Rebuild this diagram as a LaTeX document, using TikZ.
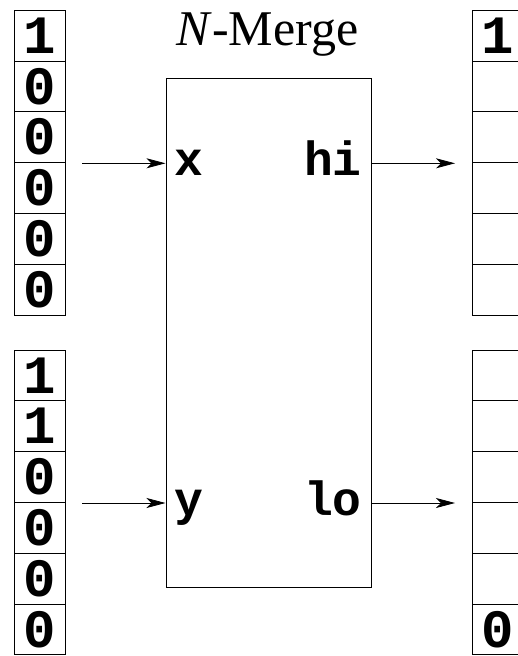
\documentclass[tikz,border=0pt]{standalone}
\usepackage{fontspec}
\setmainfont{Liberation Serif}
\setmonofont{Liberation Mono}
\usetikzlibrary{arrows.meta}
\begin{document}
\begin{tikzpicture}[x=1pt,y=-1pt,
  cell/.style={draw, line width=0.8pt, minimum width=51pt, minimum height=50.8pt, inner sep=0pt,
    font=\fontsize{54}{58}\selectfont\ttfamily\bfseries},
  lbl/.style={anchor=base, inner sep=0pt, font=\fontsize{48}{52}\selectfont\ttfamily\bfseries},
  arr/.style={line width=0.8pt, -{Stealth[length=19pt,width=10pt,inset=5pt]}}]
\useasboundingbox (0,0) rectangle (518,656);
% left columns
\foreach \v [count=\i from 0] in {1,0,0,0,0,0}
  \node[cell] (a\i) at (39.5,{35.5+50.8*\i}) {\v};
\foreach \v [count=\i from 0] in {1,1,0,0,0,0}
  \node[cell] (b\i) at (39.5,{375.4+50.8*\i}) {\v};
% right columns
\foreach \v [count=\i from 0] in {1,{},{},{},{},{}}
  \node[cell] (c\i) at (498,{35.5+50.8*\i}) {\v};
\foreach \v [count=\i from 0] in {{},{},{},{},{},0}
  \node[cell] (d\i) at (498,{375.4+50.8*\i}) {\v};
% merge box
\node[draw, line width=1pt, minimum width=205pt, minimum height=509pt, inner sep=0pt] (merge) at (268.5,333.3) {};
\node[anchor=base, inner sep=0pt, font=\fontsize{50}{55}\selectfont] (title) at (267.5,45) {\textit{N}-Merge};
\node[lbl, anchor=base west] (x) at (174,175) {x};
\node[lbl, anchor=base east] (hi) at (362,175) {hi};
\node[lbl, anchor=base west] (y) at (174,515) {y};
\node[lbl, anchor=base east] (lo) at (362,515) {lo};
% arrows
\coordinate (xin) at (82,163.3);
\coordinate (yin) at (82,503);
\coordinate (hiout) at (455,163.3);
\coordinate (loout) at (455,503);
\draw[arr] (xin) -- (xin -| merge.west);
\draw[arr] (yin) -- (yin -| merge.west);
\draw[arr] (hiout -| merge.east) -- (hiout);
\draw[arr] (loout -| merge.east) -- (loout);
\end{tikzpicture}
\end{document}
